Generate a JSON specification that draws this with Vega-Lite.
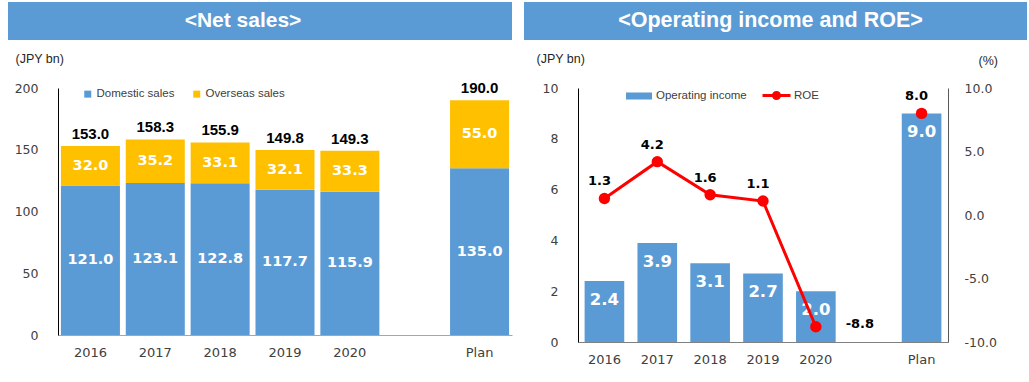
{
  "$schema": "https://vega.github.io/schema/vega-lite/v6.json",
  "background": "white",
  "padding": {"left": 7, "top": 2, "right": 2, "bottom": 2},
  "config": {
    "locale": {"number": {"decimal": ".", "thousands": ",", "grouping": [3], "currency": ["$", ""], "minus": "-"}},
    "view": {"stroke": null},
    "axis": {"grid": false, "ticks": false, "labelFont": "DejaVu Sans", "labelFontSize": 12.5, "labelColor": "#404040", "titleFont": "Liberation Sans", "titleFontSize": 12.5, "titleFontWeight": "normal", "titleColor": "#262626"},
    "legend": {"labelFont": "Liberation Sans", "labelFontSize": 11.5, "labelColor": "#404040", "padding": 0}
  },
  "datasets": {
    "sales": [
      {"year": "2016", "segment": "Domestic sales", "value": 121.0},
      {"year": "2016", "segment": "Overseas sales", "value": 32.0},
      {"year": "2017", "segment": "Domestic sales", "value": 123.1},
      {"year": "2017", "segment": "Overseas sales", "value": 35.2},
      {"year": "2018", "segment": "Domestic sales", "value": 122.8},
      {"year": "2018", "segment": "Overseas sales", "value": 33.1},
      {"year": "2019", "segment": "Domestic sales", "value": 117.7},
      {"year": "2019", "segment": "Overseas sales", "value": 32.1},
      {"year": "2020", "segment": "Domestic sales", "value": 115.9},
      {"year": "2020", "segment": "Overseas sales", "value": 33.3},
      {"year": "Plan", "segment": "Domestic sales", "value": 135.0},
      {"year": "Plan", "segment": "Overseas sales", "value": 55.0}
    ],
    "totals": [
      {"year": "2016", "total": 153.0},
      {"year": "2017", "total": 158.3},
      {"year": "2018", "total": 155.9},
      {"year": "2019", "total": 149.8},
      {"year": "2020", "total": 149.3},
      {"year": "Plan", "total": 190.0}
    ],
    "perf": [
      {"year": "2016", "oi": 2.4, "roe": 1.3},
      {"year": "2017", "oi": 3.9, "roe": 4.2},
      {"year": "2018", "oi": 3.1, "roe": 1.6},
      {"year": "2019", "oi": 2.7, "roe": 1.1},
      {"year": "2020", "oi": 2.0, "roe": -8.8},
      {"year": "Plan", "oi": 9.0, "roe": 8.0}
    ],
    "headers": [{"title": "<Net sales>"}],
    "headers2": [{"title": "<Operating income and ROE>"}],
    "blank": [{}]
  },
  "spacing": 11,
  "resolve": {"scale": {"color": "independent", "fill": "independent", "stroke": "independent"}, "legend": {"color": "independent", "fill": "independent", "stroke": "independent"}},
  "hconcat": [
    {
      "columns": 2,
      "align": "none",
      "spacing": {"row": 12, "column": 0},
      "resolve": {"scale": {"color": "independent", "fill": "independent", "stroke": "independent"}, "legend": {"color": "independent", "fill": "independent", "stroke": "independent"}},
      "concat": [
        {"width": 1, "height": 1, "data": {"name": "blank"}, "mark": {"type": "text", "text": "", "fontSize": 1, "baseline": "top", "align": "left"}, "encoding": {}},
        {
          "width": 504, "height": 38,
          "view": {"fill": "#5B9BD5", "stroke": null},
          "data": {"name": "headers"},
          "mark": {"type": "text", "font": "Liberation Sans", "fontSize": 21, "fontWeight": "bold", "color": "white", "baseline": "middle", "dx": -17},
          "encoding": {"text": {"field": "title"}}
        },
        {"width": 1, "height": 1, "data": {"name": "blank"}, "mark": {"type": "text", "text": "", "fontSize": 1, "baseline": "top", "align": "left"}, "encoding": {}},
        {
          "width": 454, "height": 247,
          "encoding": {
            "x": {"field": "year", "type": "nominal", "sort": null,
              "scale": {"domain": ["2016", "2017", "2018", "2019", "2020", " ", "Plan"], "paddingInner": 0.09, "paddingOuter": 0.045},
              "axis": {"title": null, "labelAngle": 0, "labelPadding": 11, "labelFontSize": 13, "domainColor": "#A6A6A6"}}
          },
          "layer": [
            {
              "data": {"name": "sales"},
              "mark": {"type": "bar"},
              "encoding": {
                "y": {"field": "value", "type": "quantitative", "stack": "zero", "scale": {"domain": [0, 200]},
                  "axis": {"values": [0, 50, 100, 150, 200], "title": "(JPY bn)", "titleAngle": 0, "titleAlign": "left", "titleBaseline": "middle", "titleX": -43, "titleY": -30, "labelPadding": 20, "domainColor": "black", "minExtent": 50}},
                "color": {"field": "segment", "type": "nominal",
                  "scale": {"domain": ["Domestic sales", "Overseas sales"], "range": ["#5B9BD5", "#FFC000"]},
                  "legend": {"title": null, "orient": "none", "direction": "horizontal", "legendX": 24, "legendY": 0, "symbolType": "square", "symbolSize": 49, "columnPadding": 16, "labelOffset": 3}},
                "order": {"field": "segment", "sort": "ascending"}
              }
            },
            {
              "data": {"name": "sales"},
              "mark": {"type": "text", "color": "white", "font": "DejaVu Sans", "fontWeight": "bold", "fontSize": 14.5, "baseline": "middle"},
              "encoding": {
                "y": {"field": "value", "type": "quantitative", "stack": "zero", "bandPosition": 0.5, "scale": {"domain": [0, 200]},
                  "axis": {"values": [0, 50, 100, 150, 200], "title": "(JPY bn)", "titleAngle": 0, "titleAlign": "left", "titleBaseline": "middle", "titleX": -43, "titleY": -30, "labelPadding": 20, "domainColor": "black", "minExtent": 50}},
                "detail": {"field": "segment"},
                "order": {"field": "segment", "sort": "ascending"},
                "text": {"field": "value", "type": "quantitative", "format": ".1f"}
              }
            },
            {
              "data": {"name": "totals"},
              "mark": {"type": "text", "color": "black", "font": "Liberation Sans", "fontWeight": "bold", "fontSize": 15, "baseline": "middle", "dy": -12},
              "encoding": {
                "y": {"field": "total", "type": "quantitative", "scale": {"domain": [0, 200]},
                  "axis": {"values": [0, 50, 100, 150, 200], "title": "(JPY bn)", "titleAngle": 0, "titleAlign": "left", "titleBaseline": "middle", "titleX": -43, "titleY": -30, "labelPadding": 20, "domainColor": "black", "minExtent": 50}},
                "text": {"field": "total", "type": "quantitative", "format": ".1f"}
              }
            }
          ]
        }
      ]
    },
    {
      "columns": 2,
      "align": "none",
      "spacing": {"row": 12, "column": 0},
      "resolve": {"scale": {"color": "independent", "fill": "independent", "stroke": "independent"}, "legend": {"color": "independent", "fill": "independent", "stroke": "independent"}},
      "concat": [
        {"width": 1, "height": 1, "data": {"name": "blank"}, "mark": {"type": "text", "text": "", "fontSize": 1, "baseline": "top", "align": "left"}, "encoding": {}},
        {
          "width": 503, "height": 38,
          "view": {"fill": "#5B9BD5", "stroke": null},
          "data": {"name": "headers2"},
          "mark": {"type": "text", "font": "Liberation Sans", "fontSize": 21.5, "fontWeight": "bold", "color": "white", "baseline": "middle", "dx": -5},
          "encoding": {"text": {"field": "title"}}
        },
        {"width": 1, "height": 1, "data": {"name": "blank"}, "mark": {"type": "text", "text": "", "fontSize": 1, "baseline": "top", "align": "left"}, "encoding": {}},
        {
          "width": 370, "height": 254,
          "data": {"name": "perf"},
          "encoding": {
            "x": {"field": "year", "type": "nominal", "sort": null,
              "scale": {"domain": ["2016", "2017", "2018", "2019", "2020", " ", "Plan"], "paddingInner": 0.25, "paddingOuter": 0.125},
              "axis": {"title": null, "labelAngle": 0, "labelPadding": 11, "labelFontSize": 13, "domainColor": "#808080"}}
          },
          "layer": [
            {
              "encoding": {
                "y": {"field": "oi", "type": "quantitative", "scale": {"domain": [0, 10]},
                  "axis": {"orient": "left", "values": [0, 2, 4, 6, 8, 10], "title": "(JPY bn)", "titleAngle": 0, "titleAlign": "left", "titleBaseline": "middle", "titleX": -42, "titleY": -30, "labelPadding": 20, "domainColor": "black", "minExtent": 54}}
              },
              "layer": [
                {
                  "mark": {"type": "bar"},
                  "encoding": {
                    "fill": {"datum": "Operating income", "scale": {"range": ["#5B9BD5"]},
                      "legend": {"title": null, "orient": "none", "legendX": 47, "legendY": -6, "symbolType": "M-1,-0.27H1V0.27H-1Z", "symbolSize": 676, "labelOffset": 3}}
                  }
                },
                {
                  "mark": {"type": "text", "color": "white", "font": "DejaVu Sans", "fontWeight": "bold", "fontSize": 16.5, "baseline": "middle", "dy": 19},
                  "encoding": {"text": {"field": "oi", "type": "quantitative", "format": ".1f"}}
                }
              ]
            },
            {
              "encoding": {
                "y": {"field": "roe", "type": "quantitative", "scale": {"domain": [-10, 10]},
                  "axis": {"orient": "right", "values": [-10, -5, 0, 5, 10], "format": ".1f", "title": "(%)", "titleAngle": 0, "titleAlign": "left", "titleBaseline": "middle", "titleX": 30, "titleY": -28, "labelPadding": 16, "domainColor": "#595959"}}
              },
              "layer": [
                {
                  "transform": [{"filter": "datum.year != 'Plan'"}],
                  "mark": {"type": "line", "strokeWidth": 3},
                  "encoding": {
                    "stroke": {"datum": "ROE", "scale": {"range": ["#FF0000"]},
                      "legend": {"title": null, "orient": "none", "legendX": 183, "legendY": -8, "symbolType": "M-1,0H1M-0.22,0A0.22,0.22 0 1,1 0.22,0A0.22,0.22 0 1,1 -0.22,0Z", "symbolSize": 784, "symbolStrokeWidth": 3, "symbolFillColor": "#FF0000", "labelOffset": 2}}
                  }
                },
                {
                  "mark": {"type": "point", "filled": true, "color": "#FF0000", "size": 130, "opacity": 1}
                },
                {
                  "transform": [{"filter": "datum.year != '2020'"}],
                  "mark": {"type": "text", "color": "black", "font": "DejaVu Sans", "fontWeight": "bold", "fontSize": 13, "baseline": "middle", "dy": -17, "dx": -5},
                  "encoding": {"text": {"field": "roe", "type": "quantitative", "format": ".1f"}}
                },
                {
                  "transform": [{"filter": "datum.year == '2020'"}],
                  "mark": {"type": "text", "color": "black", "font": "DejaVu Sans", "fontWeight": "bold", "fontSize": 13, "baseline": "middle", "dy": -3, "dx": 44},
                  "encoding": {"text": {"field": "roe", "type": "quantitative", "format": ".1f"}}
                }
              ]
            }
          ],
          "resolve": {"scale": {"y": "independent"}, "axis": {"y": "independent"}}
        }
      ]
    }
  ]
}
